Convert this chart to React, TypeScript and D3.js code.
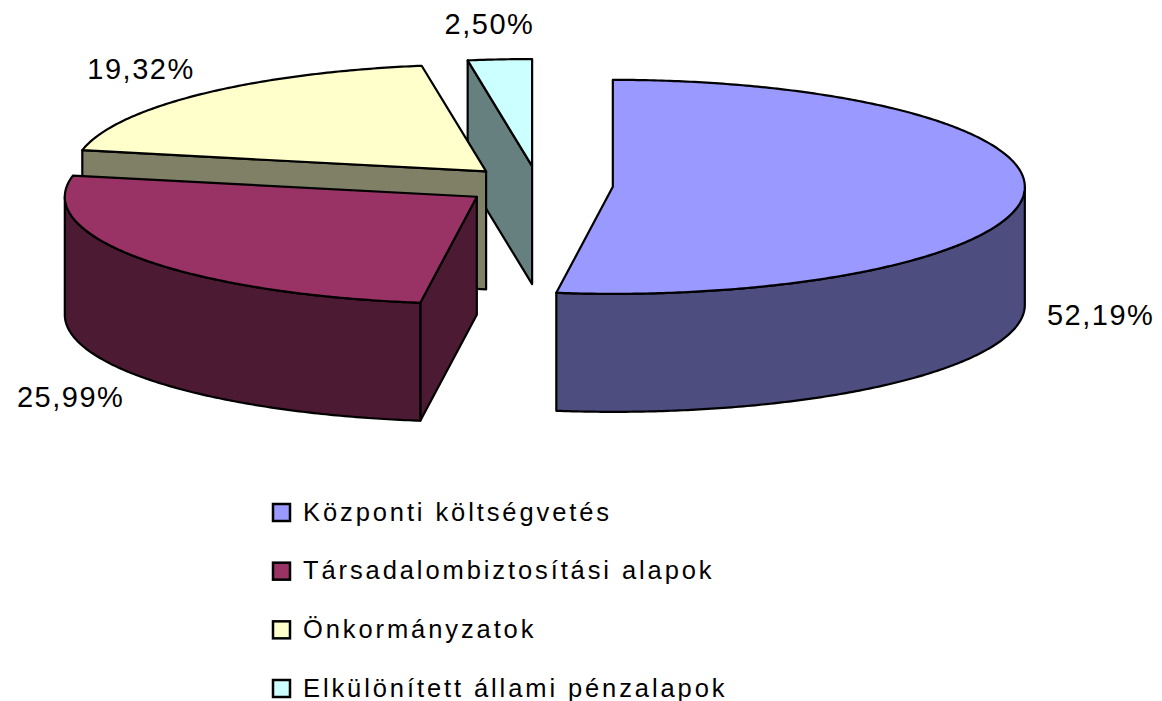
import { useMemo } from 'react';
import * as d3 from 'd3';

// chart data
const categories = [
  'Központi költségvetés',
  'Társadalombiztosítási alapok',
  'Önkormányzatok',
  'Elkülönített állami pénzalapok',
];
const values = [52.19, 25.99, 19.32, 2.5];
const labels = ['52,19%', '25,99%', '19,32%', '2,50%'];
const topColors = ['#9999FF', '#993366', '#FFFFCC', '#CCFFFF'];

const W = 1162;
const H = 701;
const rx = 412;
const ry = 107;
const depth = 118;
const explode = 75;
const cx = 538;
const cy = 185.5;
const labelR = 493;
const font = "'Liberation Sans', Arial, Helvetica, sans-serif";

const line = d3.line();

const App = () => {
  const slices = useMemo(() => {
    const arcs = d3.pie<number>().sort(null).value((d) => d)(values);
    const k = ry / rx;
    return arcs
      .map((a, i) => {
        const mid = (a.startAngle + a.endAngle) / 2;
        const sx = cx + explode * Math.sin(mid);
        const sy = cy - explode * Math.cos(mid) * k;
        const pt = (ang: number, dz: number): [number, number] => [
          sx + rx * Math.sin(ang),
          sy - ry * Math.cos(ang) + dz,
        ];
        const arcPts = (a0: number, a1: number, dz: number) => {
          const n = Math.max(2, Math.ceil(Math.abs(a1 - a0) / 0.01));
          return d3.range(n + 1).map((j) => pt(a0 + ((a1 - a0) * j) / n, dz));
        };
        const base = d3.rgb(topColors[i]);
        const sideColor = d3.rgb(base.r * 0.5, base.g * 0.5, base.b * 0.5).formatHex();

        const faces: { d: string; fill: string }[] = [];
        // radial walls, only the ones turned toward the viewer
        const walls = [
          { ang: a.startAngle, normal: a.startAngle - Math.PI / 2 },
          { ang: a.endAngle, normal: a.endAngle + Math.PI / 2 },
        ];
        walls.forEach((w) => {
          if (Math.cos(w.normal) < -1e-6) {
            const pts: [number, number][] = [
              [sx, sy],
              pt(w.ang, 0),
              pt(w.ang, depth),
              [sx, sy + depth],
            ];
            faces.push({ d: line(pts) + 'Z', fill: sideColor });
          }
        });
        // outer curved side (front half only)
        const as = Math.max(a.startAngle, Math.PI / 2);
        const ae = Math.min(a.endAngle, (3 * Math.PI) / 2);
        if (ae > as) {
          const pts = [...arcPts(as, ae, 0), ...arcPts(ae, as, depth)];
          faces.push({ d: line(pts) + 'Z', fill: sideColor });
        }
        // top
        const topPts: [number, number][] = [[sx, sy], ...arcPts(a.startAngle, a.endAngle, 0)];
        faces.push({ d: line(topPts) + 'Z', fill: topColors[i] });

        const front = Math.cos(mid) < 0;
        const lx = sx + labelR * Math.sin(mid) - 4;
        const ly = sy - labelR * Math.cos(mid) * k + (front ? depth : 0) - Math.cos(mid) * 14;
        return { i, sy, faces, lx, ly };
      })
      .sort((p, q) => p.sy - q.sy);
  }, []);

  const legendY = d3.scalePoint<string>().domain(categories).range([512, 688]);

  return (
    <svg
      width={W}
      height={H}
      style={{ position: 'absolute', left: 0, top: 0, background: '#fff' }}
    >
      <g>
        {slices.map((s) => (
          <g key={s.i}>
            {s.faces.map((f, j) => (
              <path
                key={j}
                d={f.d}
                fill={f.fill}
                stroke="#000"
                strokeWidth={2.2}
                strokeLinejoin="round"
              />
            ))}
          </g>
        ))}
      </g>
      <g fontFamily={font} fontSize={29} letterSpacing={1.5}>
        {slices.map((s) => (
          <text
            key={s.i}
            x={s.lx}
            y={s.ly}
            textAnchor="middle"
            dominantBaseline="central"
            fill="#000"
          >
            {labels[s.i]}
          </text>
        ))}
      </g>
      <g fontFamily={font} fontSize={25.5} letterSpacing={2.9}>
        {categories.map((c, i) => {
          const y = legendY(c)!;
          return (
            <g key={c}>
              <rect
                x={273}
                y={y - 8}
                width={17}
                height={17}
                fill={topColors[i]}
                stroke="#000"
                strokeWidth={2.5}
              />
              <text x={303} y={y + 8.5} fill="#000">
                {c}
              </text>
            </g>
          );
        })}
      </g>
    </svg>
  );
};

export default App;
